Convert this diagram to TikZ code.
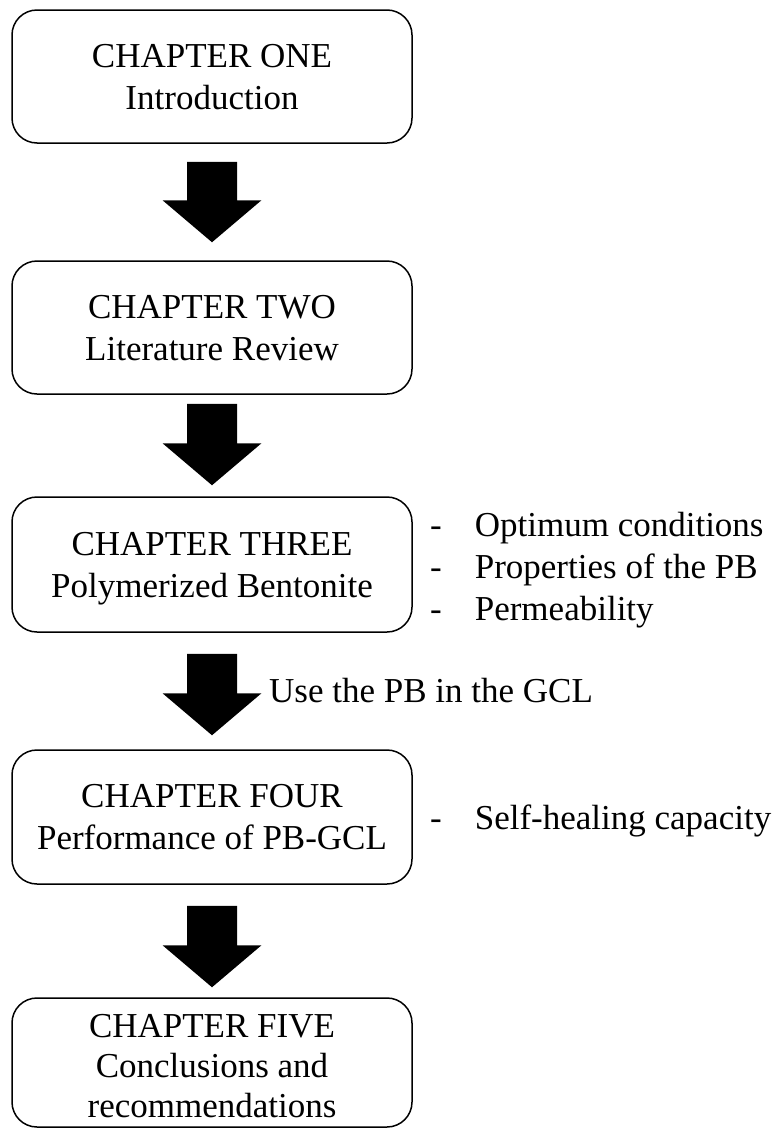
\documentclass[tikz,border=0pt]{standalone}
\usepackage{fontspec}
\setmainfont{Liberation Serif}

\begin{document}
\begin{tikzpicture}[x=1pt,y=-1pt,
    box/.style={draw,line width=1.5pt,rounded corners=25pt,minimum width=400pt,
      inner sep=0pt,align=center,text depth=0pt,font=\fontsize{35}{42}\selectfont},
    note/.style={anchor=base west,inner sep=0pt,font=\fontsize{35}{42}\selectfont}]
  \useasboundingbox (0,0) rectangle (779,1130);
  \node[box,minimum height=133pt] (one) at (212,76.5) {CHAPTER ONE\\Introduction};
  \node[box,minimum height=133pt] (two) at (212,327.5) {CHAPTER TWO\\Literature Review};
  \node[box,minimum height=135pt] (three) at (212,564.5) {CHAPTER THREE\\Polymerized Bentonite};
  \node[box,minimum height=134pt] (four) at (212,817) {CHAPTER FOUR\\Performance of PB-GCL};
  \node[box,minimum height=129pt,text height=109pt,font=\fontsize{35}{40}\selectfont] (five) at (212,1062.5)
    {CHAPTER FIVE\\Conclusions and\\recommendations};
  % block arrows between the chapters
  \foreach \up/\dn/\gu/\gd/\hd in {one/two/18/18/60,two/three/9/11/53,three/four/21/14/56,four/five/21/10/52}
    \fill ([xshift=-25pt,yshift=-\gu pt]\up.south) -- ([xshift=25pt,yshift=-\gu pt]\up.south)
      -- ([xshift=25pt,yshift=\hd pt]\dn.north) -- ([xshift=49.5pt,yshift=\hd pt]\dn.north)
      -- ([yshift=\gd pt]\dn.north) -- ([xshift=-49.5pt,yshift=\hd pt]\dn.north)
      -- ([xshift=-25pt,yshift=\hd pt]\dn.north) -- cycle;
  \node[note] (optimum) at (430,536) {-\hspace{33pt}Optimum conditions};
  \node[note] (props) at (430,578) {-\hspace{33pt}Properties of the PB};
  \node[note] (perm) at (430,620) {-\hspace{33pt}Permeability};
  \node[note] (use) at (269,702) {Use the PB in the GCL};
  \node[note] (heal) at (430,829) {-\hspace{33pt}Self-healing capacity};
\end{tikzpicture}
\end{document}
